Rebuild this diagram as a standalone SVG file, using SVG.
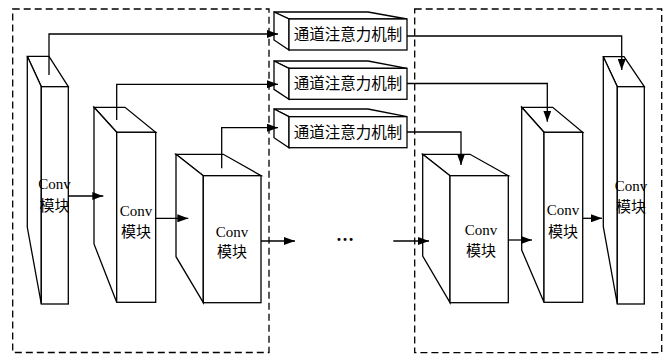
<svg xmlns="http://www.w3.org/2000/svg" width="664" height="355" viewBox="0 0 664 355">
<style>
  .box { fill: #fff; stroke: #000; stroke-width: 1.3; stroke-linejoin: miter; }
  .dash { fill: none; stroke: #000; stroke-width: 1.3; stroke-dasharray: 7 4; }
  .conn { fill: none; stroke: #000; stroke-width: 1.3; marker-end: url(#arr); }
  .lbl { font-family: "Liberation Serif", "Noto Sans CJK SC", serif; font-size: 15px; text-anchor: middle; fill: #000; }
  .att { font-family: "Liberation Serif", "Noto Sans CJK SC", serif; font-size: 15.5px; text-anchor: middle; fill: #000; }
</style>
<defs>
  <marker id="arr" markerUnits="userSpaceOnUse" markerWidth="11" markerHeight="8" refX="11" refY="4" orient="auto">
    <path d="M0,0 L11,4 L0,8 z" fill="#000"/>
  </marker>
</defs>
<rect width="664" height="355" fill="#fff"/>
<g id="frames">
  <rect class="dash" x="12.7" y="9" width="256.3" height="343.5"/>
  <rect class="dash" x="414.7" y="9" width="247" height="343.7"/>
</g>
<g id="conv-L1">
  <polygon class="box" points="27.3,56.3 49,56.3 68.3,86.7 41.3,86.7"/>
  <polygon class="box" points="27.3,56.3 41.3,86.7 41.3,304 27.3,227.3"/>
  <rect class="box" x="41.3" y="86.7" width="27" height="217.3"/>
  <text class="lbl" x="54.5" y="189">Conv</text>
  <text class="lbl" x="54.5" y="210.5">模块</text>
</g>
<g id="conv-L2">
  <polygon class="box" points="94,107.3 125,107.3 155.7,132.3 116.7,132.3"/>
  <polygon class="box" points="94,107.3 116.7,132.3 116.7,302.3 94,244"/>
  <rect class="box" x="116.7" y="132.3" width="39" height="170"/>
  <text class="lbl" x="136" y="215.5">Conv</text>
  <text class="lbl" x="136" y="237">模块</text>
</g>
<g id="conv-L3">
  <polygon class="box" points="176,154.3 223.3,154.3 261,175.7 203.3,175.7"/>
  <polygon class="box" points="176,154.3 203.3,175.7 203.3,302.7 176,256.7"/>
  <rect class="box" x="203.3" y="175.7" width="57.7" height="127"/>
  <text class="lbl" x="232" y="236.5">Conv</text>
  <text class="lbl" x="232" y="257">模块</text>
</g>
<g id="conv-R1">
  <polygon class="box" points="422.7,154.3 470,154.3 508.3,175.7 450,175.7"/>
  <polygon class="box" points="422.7,154.3 450,175.7 450,302.7 422.7,256"/>
  <rect class="box" x="450" y="175.7" width="58.3" height="127"/>
  <text class="lbl" x="481" y="234.5">Conv</text>
  <text class="lbl" x="481" y="255.5">模块</text>
</g>
<g id="conv-R2">
  <polygon class="box" points="521.7,107.3 552.7,107.3 582.7,132.3 544,132.3"/>
  <polygon class="box" points="521.7,107.3 544,132.3 544,302.3 521.7,250"/>
  <rect class="box" x="544" y="132.3" width="38.7" height="170"/>
  <text class="lbl" x="563" y="214.5">Conv</text>
  <text class="lbl" x="563" y="236.5">模块</text>
</g>
<g id="conv-R3">
  <polygon class="box" points="603.3,56.7 624,56.7 644.3,86.7 617.3,86.7"/>
  <polygon class="box" points="603.3,56.7 617.3,86.7 617.3,304 603.3,226.7"/>
  <rect class="box" x="617.3" y="86.7" width="27" height="217.3"/>
  <text class="lbl" x="631" y="190.5">Conv</text>
  <text class="lbl" x="631" y="212">模块</text>
</g>
<g id="att-1">
  <polygon class="box" points="274,12 368,12 407,19 289,19"/>
  <polygon class="box" points="274,12 289,19 289,50 274,40"/>
  <rect class="box" x="289" y="19" width="118" height="31"/>
  <text class="att" x="348" y="40">通道注意力机制</text>
</g>
<g id="att-2">
  <polygon class="box" points="274,61 368,61 407,68.3 289,68.3"/>
  <polygon class="box" points="274,61 289,68.3 289,99.3 274,89.3"/>
  <rect class="box" x="289" y="68.3" width="118" height="31"/>
  <text class="att" x="348" y="89.3">通道注意力机制</text>
</g>
<g id="att-3">
  <polygon class="box" points="274,109 368,109 407,116.7 289,116.7"/>
  <polygon class="box" points="274,109 289,116.7 289,147.7 274,137.7"/>
  <rect class="box" x="289" y="116.7" width="118" height="31"/>
  <text class="att" x="348" y="137.7">通道注意力机制</text>
</g>
<g id="connectors">
  <path class="conn" d="M49,75 V34 H278"/>
  <path class="conn" d="M116.7,120 V84.3 H278"/>
  <path class="conn" d="M221.7,168.3 V127.7 H278"/>
  <path class="conn" d="M407,36 H621.7 V70"/>
  <path class="conn" d="M407,83.5 H547.3 V121.7"/>
  <path class="conn" d="M407,132 H461 V165"/>
  <path class="conn" d="M68.3,196 H103.3"/>
  <path class="conn" d="M155.7,218.3 H188.3"/>
  <path class="conn" d="M261,241 H295"/>
  <path class="conn" d="M393.3,241 H429"/>
  <path class="conn" d="M508.3,240 H532"/>
  <path class="conn" d="M582.7,218.3 H602"/>
</g>
<text x="345" y="241" style="font-family: 'Liberation Serif', serif; font-size: 18px; font-weight: bold; text-anchor: middle; fill: #000;">…</text>
</svg>
